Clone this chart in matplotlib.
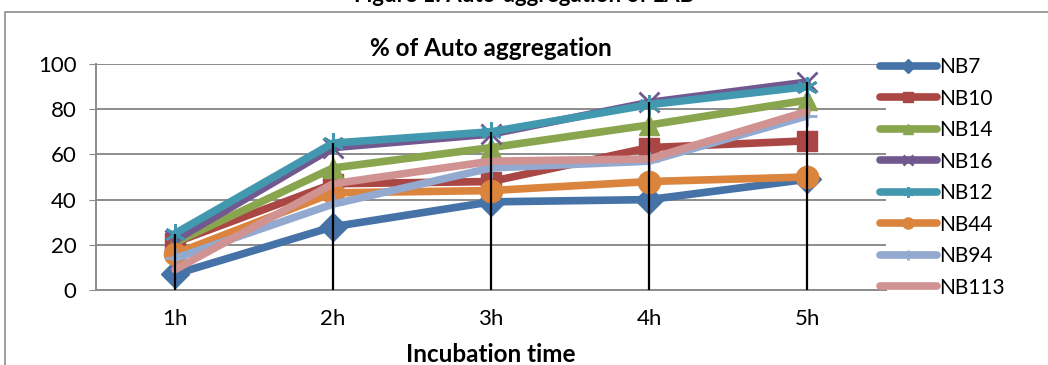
import matplotlib.pyplot as plt
from matplotlib.patches import Rectangle

plt.rcParams['font.family'] = ['Lato', 'DejaVu Sans']

# Incubation time categories
hours = ["1h", "2h", "3h", "4h", "5h"]

# % of auto aggregation per strain
nb7 = [7, 28, 39, 40, 49]
nb10 = [21, 47, 48, 63, 66]
nb14 = [21, 54, 63, 73, 84]
nb16 = [22, 63, 69, 83, 92]
nb12 = [25, 65, 70, 82, 90]
nb44 = [16, 43, 44, 48, 50]
nb94 = [14, 38, 54, 57, 77]
nb113 = [9, 47, 57, 58, 79]

series = [
    ("NB7", nb7, "#4572A7", "D"),
    ("NB10", nb10, "#AA4643", "s"),
    ("NB14", nb14, "#89A54E", "^"),
    ("NB16", nb16, "#71588F", "x"),
    ("NB12", nb12, "#4198AF", (6, 2, 0)),
    ("NB44", nb44, "#DB843D", "o"),
    ("NB94", nb94, "#93A9CF", "+"),
    ("NB113", nb113, "#D19392", ""),
]

fig = plt.figure(figsize=(10.48, 3.65), dpi=100)

# chart border (as in the original spreadsheet chart)
fig.patches.append(Rectangle((5 / 1048, -0.1), 1.1, 1.1 - 12 / 365,
                             transform=fig.transFigure, fill=False,
                             edgecolor="#8c8c8c", linewidth=1.2))

fig.text(0.5, 1 + 5 / 365, "Figure 1: Auto-aggregation of LAB", ha="center",
         va="center", fontsize=16, fontweight="bold")

ax = fig.add_axes([96 / 1048, 1 - 290 / 365, 790 / 1048, 226 / 365])

x = list(range(1, len(hours) + 1))

lines = []
for name, vals, col, mk in series:
    thin = mk in ("x", "+", (6, 2, 0))
    ms = 16 if mk == "o" else (15 if thin else 14)
    ln, = ax.plot(x, vals, color=col, linewidth=5.5, marker=mk if mk else None,
                  markersize=ms, markeredgewidth=2 if thin else 1,
                  markeredgecolor=col, solid_capstyle="round",
                  solid_joinstyle="round", label=name, zorder=3)
    lines.append(ln)

# drop lines from the highest value down to the axis
all_vals = [s[1] for s in series]
tops = [max(v[i] for v in all_vals) for i in range(len(hours))]
ax.vlines(x, 0, tops, color="black", linewidth=1.6, zorder=5)

ax.set_xlim(0.5, 5.5)
ax.set_ylim(0, 100)
ax.set_yticks([0, 20, 40, 60, 80, 100])
ax.set_xticks(x)
ax.set_xticklabels(hours)
ax.grid(axis="y", color="#8c8c8c", linewidth=1.4)
ax.set_axisbelow(True)
for side in ("top", "right"):
    ax.spines[side].set_visible(False)
for side in ("left", "bottom"):
    ax.spines[side].set_color("#8c8c8c")
    ax.spines[side].set_linewidth(1.4)
ax.tick_params(axis="y", labelsize=16, length=5, color="#8c8c8c", pad=9)
ax.tick_params(axis="x", labelsize=16, length=0, pad=14)

ax.set_title("% of Auto aggregation", fontsize=17.5, fontweight="bold", pad=6)
ax.set_xlabel("Incubation time", fontsize=17.5, fontweight="bold", labelpad=10)

leg = fig.legend(handles=lines, loc="upper left",
                 bbox_to_anchor=(872 / 1048, 1 - 49 / 365), frameon=False,
                 fontsize=15, handlelength=2.7, handletextpad=0.1,
                 labelspacing=0.55, markerscale=0.5, borderaxespad=0)

plt.savefig("out.png", dpi=100)
plt.close()
